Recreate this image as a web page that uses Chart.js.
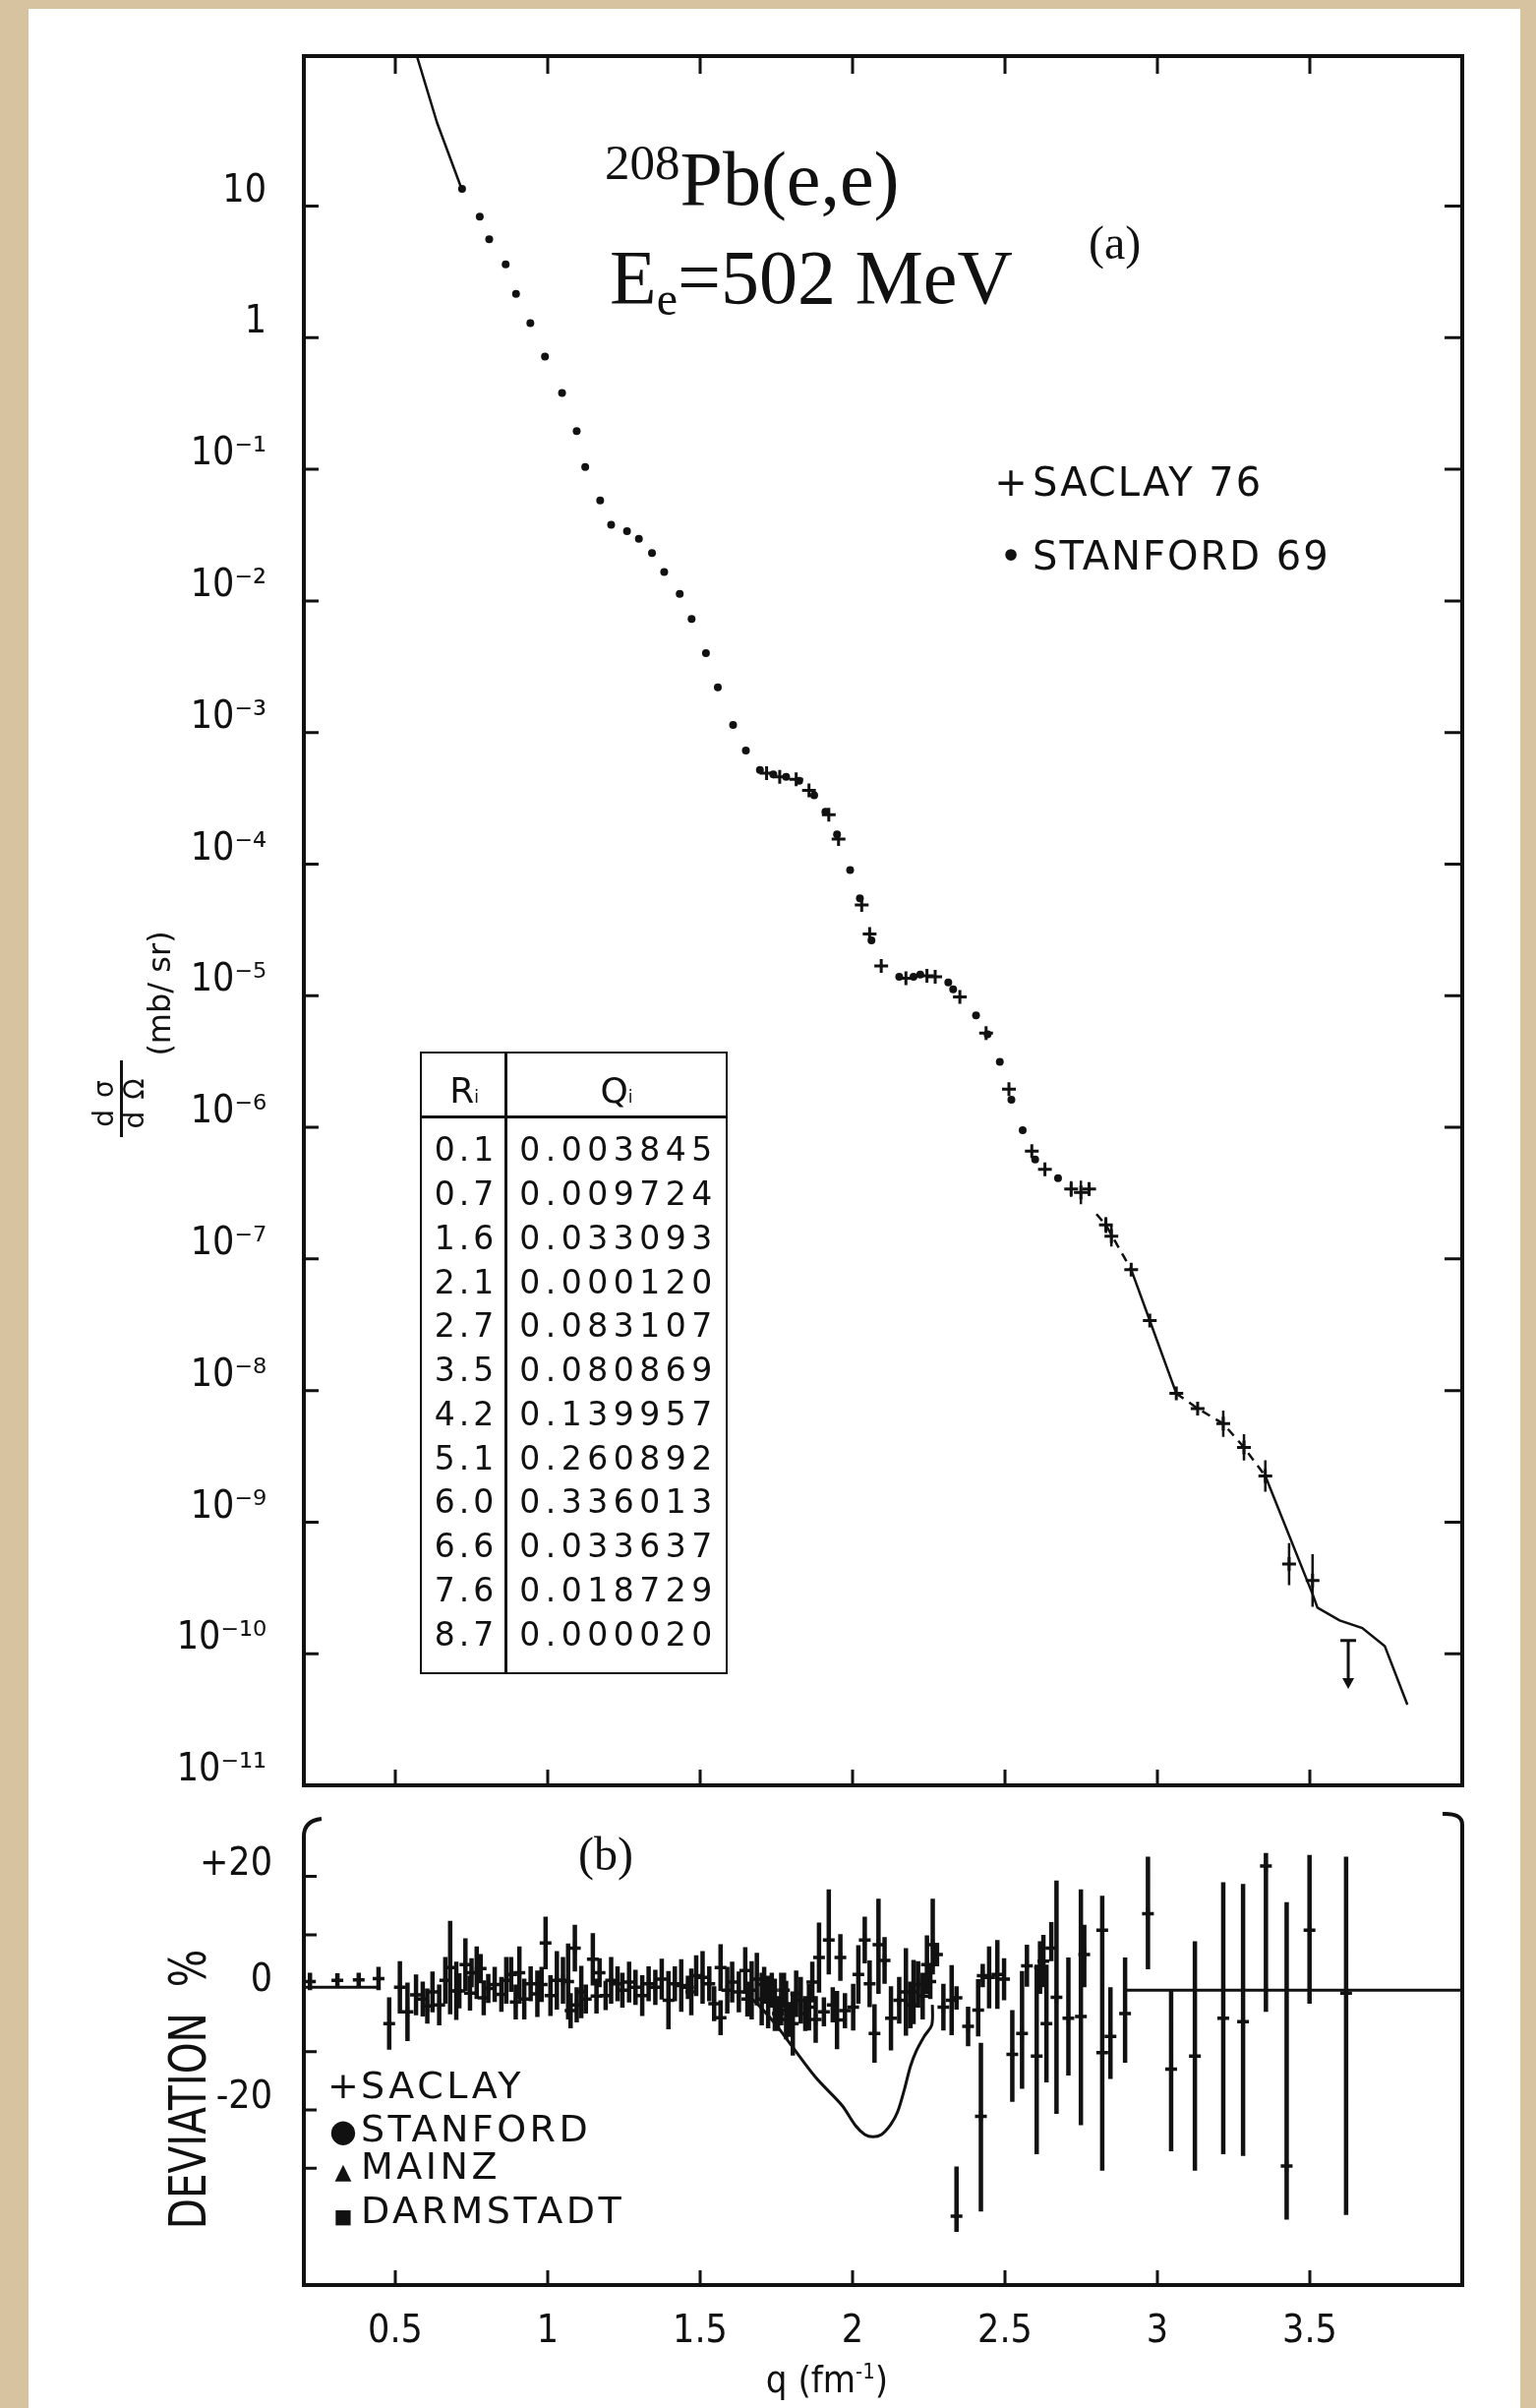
<!DOCTYPE html>
<html>
<head>
<meta charset="utf-8">
<script src="https://cdn.jsdelivr.net/npm/chart.js@4.4.1/dist/chart.umd.min.js"></script>
<style>
html, body { margin: 0; padding: 0; }
body { width: 1562px; height: 2448px; background: #d7c3a0; position: relative; overflow: hidden; color: #111;
       font-family: 'DejaVu Sans', sans-serif; }
#paper { position: absolute; left: 29px; top: 9px; width: 1517px; height: 2439px; background: #fff; }
canvas { position: absolute; left: 0; }
#upper { top: 0; }
#lower { top: 1793px; }
.t { position: absolute; white-space: nowrap; line-height: 1; }
.serif { font-family: 'Liberation Serif', 'Times New Roman', serif; }
.leg { font-size: 40px; letter-spacing: 2px; }
.leg2 { font-size: 38px; letter-spacing: 3.5px; }
.mk { display: inline-block; width: 44px; text-align: center; letter-spacing: 0; line-height: 0; }
.mk2 { display: inline-block; width: 36px; text-align: center; letter-spacing: 0; line-height: 0; }
.rot { transform: rotate(-90deg); transform-origin: center; text-align: center; }
.cell { position: absolute; line-height: 1; text-align: center; font-size: 32px; }
</style>
</head>
<body>
<div id="paper"></div>
<canvas id="upper" width="1562" height="1869"></canvas>
<canvas id="lower" width="1562" height="655"></canvas>

<!-- panel (a) texts -->
<div class="t serif" style="left:615px;top:140px;font-size:78px"><span style="font-size:51px;vertical-align:26px">208</span>Pb(e,e)</div>
<div class="t serif" style="left:620px;top:243px;font-size:78px">E<span style="font-size:48px;vertical-align:-12px">e</span>=502 MeV</div>
<div class="t serif" style="left:1107px;top:223px;font-size:48px">(a)</div>
<div class="t leg" style="left:1006px;top:470px"><span class="mk">+</span>SACLAY 76</div>
<div class="t leg" style="left:1006px;top:545px"><span class="mk">•</span>STANFORD 69</div>

<!-- y title of panel (a) -->
<div class="t rot" style="left:62px;top:994px;width:200px;font-size:32px">(mb/ sr)</div>
<div class="t rot" style="left:46px;top:1102px;width:120px;font-size:28px;letter-spacing:12px">dσ</div>
<div class="t rot" style="left:77px;top:1102px;width:120px;font-size:28px;letter-spacing:12px">dΩ</div>
<div style="position:absolute;left:122px;top:1078px;width:2.5px;height:78px;background:#111"></div>

<!-- table -->
<div id="tbl" style="position:absolute;left:427px;top:1069px;width:313px;height:633px;border:2.5px solid #111;box-sizing:border-box"></div>

<!-- panel (b) texts -->
<div class="t serif" style="left:588px;top:1861px;font-size:48px">(b)</div>
<div class="t leg2" style="left:331px;top:2101px"><span class="mk2">+</span>SACLAY</div>
<div class="t leg2" style="left:331px;top:2145px"><span class="mk2" style="font-size:32px">●</span>STANFORD</div>
<div class="t leg2" style="left:331px;top:2183px"><span class="mk2" style="font-size:22px">▲</span>MAINZ</div>
<div class="t leg2" style="left:331px;top:2228px"><span class="mk2" style="font-size:20px">■</span>DARMSTADT</div>
<div class="t rot" style="left:-9px;top:2098px;width:400px;font-size:52px;transform:rotate(-90deg) scale(0.78,1)">DEVIATION&nbsp; %</div>
<div class="t" style="left:641px;top:2400px;width:400px;text-align:center;font-size:38px;font-family:'DejaVu Sans Condensed','DejaVu Sans',sans-serif">q (fm<span style="font-size:22px;vertical-align:14px">-1</span>)</div>

<script>
const ink = '#111';

// shared q axis
const qTicks = [0.5, 1, 1.5, 2, 2.5, 3, 3.5];
const qTickLabels = ['0.5', '1', '1.5', '2', '2.5', '3', '3.5'];

// panel (a): cross section axis
const csTickValues = [10, 1, 1e-1, 1e-2, 1e-3, 1e-4, 1e-5, 1e-6, 1e-7, 1e-8, 1e-9, 1e-10, 1e-11];
const csTickLabels = ['10', '1', '10⁻¹', '10⁻²', '10⁻³', '10⁻⁴', '10⁻⁵', '10⁻⁶', '10⁻⁷', '10⁻⁸', '10⁻⁹', '10⁻¹⁰', '10⁻¹¹'];

// Stanford 69 (dots)
const stanfordQ = [0.719, 0.777, 0.808, 0.862, 0.896, 0.943, 0.991, 1.047, 1.095, 1.123, 1.172, 1.208, 1.260, 1.299, 1.342,
  1.382, 1.433, 1.472, 1.519, 1.558, 1.608, 1.650, 1.696, 1.740, 1.782, 1.825, 1.874, 1.911, 1.949, 1.992, 2.024, 2.062,
  2.153, 2.200, 2.222, 2.314, 2.330, 2.405, 2.443, 2.483, 2.521, 2.558, 2.599, 2.674];
const stanfordCs = [13.5, 8.3, 5.6, 3.6, 2.15, 1.29, 0.72, 0.38, 0.195, 0.104, 0.058, 0.0378, 0.0338, 0.0296, 0.0231,
  0.0166, 0.0113, 0.0073, 0.0040, 0.0022, 0.00114, 7.3e-4, 5.2e-4, 4.8e-4, 4.6e-4, 4.3e-4, 3.33e-4, 2.5e-4, 1.68e-4, 9.0e-5, 5.5e-5, 2.63e-5,
  1.39e-5, 1.39e-5, 1.45e-5, 1.26e-5, 1.12e-5, 7.1e-6, 5.1e-6, 3.14e-6, 1.62e-6, 9.5e-7, 5.7e-7, 4.1e-7];

// Saclay 76 (crosses), error in decades
const saclayQ = [1.718, 1.761, 1.815, 1.857, 1.922, 1.954, 2.030, 2.056, 2.094, 2.175, 2.244, 2.271, 2.352, 2.438, 2.513, 2.588,
  2.631, 2.717, 2.749, 2.776, 2.831, 2.849, 2.914, 2.975, 3.062, 3.132, 3.216, 3.284, 3.354, 3.432, 3.509];
const saclayCs = [4.9e-4, 4.6e-4, 4.4e-4, 3.63e-4, 2.37e-4, 1.55e-4, 4.9e-5, 2.95e-5, 1.68e-5, 1.36e-5, 1.42e-5, 1.39e-5, 9.8e-6, 5.2e-6, 1.95e-6, 6.6e-7,
  4.8e-7, 3.4e-7, 3.2e-7, 3.4e-7, 1.81e-7, 1.49e-7, 8.3e-8, 3.4e-8, 9.5e-9, 7.3e-9, 5.6e-9, 3.7e-9, 2.24e-9, 4.8e-10, 3.6e-10];
const saclayErrDec = [0, 0, 0, 0, 0, 0, 0, 0, 0, 0, 0, 0, 0, 0, 0, 0,
  0, 0.06, 0.09, 0.05, 0.06, 0.08, 0, 0, 0, 0, 0.1, 0.1, 0.12, 0.16, 0.2];

// upper limit point
const limitQ = 3.626, limitTop = 1.26e-10, limitBottom = 5.4e-11;

// fitted curve, visible pieces
const fitLowQ = [0.559, 0.637, 0.716];
const fitLowCs = [170, 43, 13.8];
const fitHighQ = [2.800, 2.831, 2.914, 2.975, 3.062, 3.132, 3.216, 3.284, 3.354, 3.510, 3.525, 3.598, 3.672, 3.746, 3.820];
const fitHighCs = [2.19e-7, 1.81e-7, 8.3e-8, 3.4e-8, 9.5e-9, 7.3e-9, 5.6e-9, 3.7e-9, 2.24e-9, 2.8e-10, 2.24e-10, 1.79e-10, 1.57e-10, 1.14e-10, 4.1e-11];

// table of the fit
const tableR = ['0.1', '0.7', '1.6', '2.1', '2.7', '3.5', '4.2', '5.1', '6.0', '6.6', '7.6', '8.7'];
const tableQ = ['0.003845', '0.009724', '0.033093', '0.000120', '0.083107', '0.080869', '0.139957', '0.260892', '0.336013', '0.033637', '0.018729', '0.000020'];

// panel (b): deviation axis
const devTickValues = [20, 0, -20];
const devTickLabels = ['+20', '0', '-20'];
const devMinorTicks = [20, 10, -10, -20, -30];

// deviation points: [q, deviation %, error down, error up]
const devPoints = [
  [0.22, 2, 1.5, 1.5], [0.31, 2.2, 1.2, 1.2], [0.38, 2.3, 1.2, 1.2], [0.445, 2.5, 2, 2],
  [0.48, -5.2, 4.5, 4.5], [0.515, 1.0, 4.5, 4.5], [0.54, -3.2, 5, 5], [0.568, -0.3, 3.5, 3.5], [0.59, -1.0, 3, 3],
  [0.605, -2.2, 3, 3], [0.622, 0.2, 3.5, 3.5], [0.644, -2.0, 3.5, 3.5], [0.664, 2.2, 4, 4], [0.68, 4.4, 8, 8],
  [0.70, 0.4, 5, 5], [0.71, 0.4, 3, 3], [0.73, 4.9, 4.5, 4.5], [0.745, 0.0, 3, 3], [0.75, 3.5, 2.5, 2.5],
  [0.767, 3.5, 4.5, 4.5], [0.78, 4.2, 2.5, 2.5], [0.79, -0.8, 3, 3], [0.805, 0.8, 2.5, 2.5], [0.826, 1.5, 3, 3],
  [0.848, -0.2, 3, 3], [0.864, 2.2, 4, 4], [0.88, 3.2, 3, 3], [0.895, -1.5, 3, 3], [0.907, 3.5, 4.5, 4.5],
  [0.923, -1.0, 3.5, 3.5], [0.944, 1.6, 3, 3], [0.966, -0.1, 4, 4], [0.98, 1.5, 3, 3], [0.993, 8.6, 4.5, 4.5],
  [1.009, -0.4, 3.5, 3.5], [1.03, 2.2, 5, 5], [1.05, 2.2, 4, 4], [1.067, 2.0, 6.5, 6.5], [1.075, -3.0, 3, 3],
  [1.089, 7.7, 4, 4], [1.095, -2.0, 3, 3], [1.11, 0.2, 4.5, 4.5], [1.125, -1.0, 2.5, 2.5], [1.148, 5.8, 4.5, 4.5],
  [1.16, -0.5, 3, 3], [1.17, 3.5, 2.5, 2.5], [1.19, -0.4, 2.5, 2.5], [1.208, 2.2, 4, 4], [1.229, 1.6, 3, 3],
  [1.245, 0.5, 3, 3], [1.267, 1.9, 3.5, 3.5], [1.288, 1.0, 3, 3], [1.31, -0.4, 3.5, 3.5], [1.331, 1.6, 3, 3],
  [1.353, 1.0, 3, 3], [1.374, 2.4, 3.5, 3.5], [1.396, -1.2, 5, 5], [1.417, 1.6, 3, 3], [1.438, 1.3, 4.5, 4.5],
  [1.46, 1.0, 2, 2], [1.471, 0.2, 4, 4], [1.487, 3.0, 3.5, 3.5], [1.508, 2.7, 4.5, 4.5], [1.53, 1.6, 3, 3],
  [1.546, -1.8, 3, 3], [1.567, 4.4, 4, 4], [1.567, -4.2, 3, 3], [1.589, 0.5, 4, 4], [1.605, 1.9, 3.5, 3.5],
  [1.627, 0.2, 3.5, 3.5], [1.648, 3.9, 4, 4], [1.655, -1.0, 3, 3], [1.669, 0.5, 5, 5], [1.686, 2.4, 4.5, 4.5],
  [1.702, -1.0, 4.5, 4.5], [1.71, 1.5, 3, 3], [1.723, -1.5, 4.5, 4.5], [1.735, 0.5, 3, 3], [1.745, -2.0, 4.5, 4.5],
  [1.755, -3.5, 3, 3], [1.766, -1.0, 4.5, 4.5], [1.775, 0.5, 3, 3], [1.782, -2.9, 5, 5], [1.79, -4.5, 3, 3],
  [1.804, -5.2, 5.5, 5.5], [1.815, -0.1, 4, 4], [1.83, -1.2, 4, 4], [1.845, -3.5, 3, 3], [1.857, -2.4, 4, 4],
  [1.868, 1.9, 3.5, 3.5], [1.879, -4.5, 4, 4], [1.89, 6.1, 6, 6], [1.906, -3.2, 2.5, 2.5], [1.922, 9.1, 5.9, 8.7],
  [1.935, -2.0, 3, 3], [1.949, -4.6, 5, 5], [1.96, 6.1, 4, 4], [1.975, -3.0, 3, 3], [2.002, -2.4, 4, 4],
  [2.019, 3.2, 5, 5], [2.04, 9.1, 4, 4], [2.056, 1.6, 4, 4], [2.072, -6.9, 5, 5], [2.085, 8.3, 8.4, 7.9],
  [2.105, 5.6, 4, 4], [2.126, -4.3, 5.5, 5.5], [2.153, -1.2, 4, 4], [2.175, 0.2, 7.5, 7.5], [2.19, -2.0, 4, 4],
  [2.2, 0.2, 5.5, 5.5], [2.215, 1.5, 4, 4], [2.23, -0.5, 4, 4], [2.244, 4.9, 5, 5], [2.255, 2.0, 3, 3],
  [2.263, 8.3, 5.1, 7.9], [2.277, 6.6, 2, 2], [2.298, -2.4, 4, 4], [2.325, -1.2, 6, 6], [2.341, -0.8, 2, 2],
  [2.341, -38.2, 2.7, 8.5], [2.379, -5.7, 3.4, 3.4], [2.412, -2.9, 4.5, 5.3], [2.421, -21.1, 16.3, 12.6], [2.427, 3.0, 2, 2],
  [2.448, 2.7, 5.3, 5.3], [2.475, 3.2, 5.9, 5.9], [2.497, 2.4, 3.6, 3.6], [2.524, -10.5, 8.1, 7.6], [2.556, -6.9, 9.5, 10.7],
  [2.572, 4.7, 3.6, 3.6], [2.604, -10.8, 16.8, 15.7], [2.615, 4.4, 4.5, 4.5], [2.626, 5.5, 4.5, 4.5], [2.636, -5.2, 10.1, 10.1],
  [2.652, 7.7, 2.2, 4.5], [2.669, -0.7, 20, 20], [2.708, -4.3, 9.8, 10.4], [2.749, -4.0, 18.6, 21.8], [2.76, 6.6, 5.6, 5.1],
  [2.819, -10.2, 20.2, 26.9], [2.819, 10.8, 6, 1], [2.846, -7.4, 7.3, 8.4], [2.894, -3.5, 8.4, 9.6], [2.969, 13.6, 9.5, 9.8],
  [3.045, -13.0, 14.1, 13.4], [3.123, -10.8, 19.6, 19.7], [3.216, -4.3, 23.3, 23.3], [3.281, -4.9, 23, 23.6],
  [3.356, 21.8, 25, 2.2], [3.424, -29.6, 9.2, 45.2], [3.499, 10.8, 12.6, 12.9], [3.619, 0, 38, 23.4]
];

// fitted curve deviation and reference lines
const devFitQ = [1.66, 1.70, 1.75, 1.80, 1.88, 1.965, 2.01, 2.04, 2.067, 2.095, 2.125, 2.148, 2.17, 2.19, 2.21, 2.235, 2.26, 2.262];
const devFitVal = [-0.5, -2.5, -5.5, -9.0, -14.5, -19.2, -22.7, -24.2, -24.6, -24.2, -22.5, -20.3, -16.5, -12.5, -9.8, -7.4, -5.4, -2.0];
const baseLeftQ = [0.2, 0.445], baseLeftVal = [1, 1];
const baseRightQ = [2.90, 4.0], baseRightVal = [0.5, 0.5];

function pts(xs, ys) { return xs.map((x, i) => ({ x, y: ys[i] })); }

const tickFont = { family: "'DejaVu Sans Condensed', 'DejaVu Sans', sans-serif", size: 39 };

// vertical error bars drawn with the chart's own y scale
const errorBars = {
  id: 'errorBars',
  afterDatasetsDraw(chart) {
    const ctx = chart.ctx, y = chart.scales.y;
    chart.data.datasets.forEach((ds, di) => {
      if (!ds.errLow) return;
      const meta = chart.getDatasetMeta(di);
      ctx.save();
      ctx.strokeStyle = ink;
      ctx.lineWidth = ds.errWidth;
      ctx.beginPath();
      meta.data.forEach((pt, i) => {
        if (ds.errLow[i] === ds.errHigh[i]) return;
        ctx.moveTo(pt.x, y.getPixelForValue(ds.errLow[i]));
        ctx.lineTo(pt.x, y.getPixelForValue(ds.errHigh[i]));
      });
      ctx.stroke();
      ctx.restore();
    });
  }
};

const upperFrame = {
  id: 'upperFrame',
  afterDraw(chart) {
    const { ctx, chartArea: a, scales: { x, y } } = chart;
    ctx.save();
    ctx.strokeStyle = ink;
    ctx.fillStyle = ink;
    ctx.lineWidth = 4;
    ctx.strokeRect(a.left, a.top, a.right - a.left, a.bottom - a.top);
    ctx.lineWidth = 3;
    ctx.beginPath();
    qTicks.forEach(v => {
      const px = x.getPixelForValue(v);
      ctx.moveTo(px, a.bottom); ctx.lineTo(px, a.bottom - 16);
      ctx.moveTo(px, a.top); ctx.lineTo(px, a.top + 18);
    });
    csTickValues.forEach(v => {
      const py = y.getPixelForValue(v);
      if (py > a.bottom - 4) return;
      ctx.moveTo(a.left, py); ctx.lineTo(a.left + 15, py);
      ctx.moveTo(a.right, py); ctx.lineTo(a.right - 18, py);
    });
    ctx.stroke();
    // upper limit
    const lx = x.getPixelForValue(limitQ), ly1 = y.getPixelForValue(limitTop), ly2 = y.getPixelForValue(limitBottom);
    ctx.beginPath();
    ctx.moveTo(lx - 8, ly1); ctx.lineTo(lx + 8, ly1);
    ctx.moveTo(lx, ly1); ctx.lineTo(lx, ly2 - 8);
    ctx.stroke();
    ctx.beginPath();
    ctx.moveTo(lx - 6, ly2 - 11); ctx.lineTo(lx + 6, ly2 - 11); ctx.lineTo(lx, ly2);
    ctx.closePath(); ctx.fill();
    ctx.restore();
  }
};

const lowerFrame = {
  id: 'lowerFrame',
  afterDraw(chart) {
    const { ctx, chartArea: a, scales: { x, y } } = chart;
    ctx.save();
    ctx.strokeStyle = ink;
    ctx.lineWidth = 4;
    ctx.beginPath();
    ctx.moveTo(a.left + 18, a.top - 4);
    ctx.quadraticCurveTo(a.left, a.top - 2, a.left, a.top + 14);
    ctx.lineTo(a.left, a.bottom);
    ctx.lineTo(a.right, a.bottom);
    ctx.lineTo(a.right, a.top + 2);
    ctx.quadraticCurveTo(a.right, a.top - 10, a.right - 20, a.top - 9);
    ctx.stroke();
    ctx.lineWidth = 3;
    ctx.beginPath();
    qTicks.forEach(v => {
      const px = x.getPixelForValue(v);
      ctx.moveTo(px, a.bottom); ctx.lineTo(px, a.bottom - 15);
    });
    devMinorTicks.forEach(v => {
      const py = y.getPixelForValue(v);
      ctx.moveTo(a.left, py); ctx.lineTo(a.left + 13, py);
    });
    ctx.stroke();
    ctx.restore();
  }
};

// ---- panel (a): chart area 309..1487 x 57..1815
new Chart(document.getElementById('upper'), {
  type: 'scatter',
  data: {
    datasets: [
      {
        data: pts(fitLowQ, fitLowCs), showLine: true, pointRadius: 0, borderColor: ink, borderWidth: 2.5
      },
      {
        data: pts(fitHighQ, fitHighCs), showLine: true, pointRadius: 0, borderColor: ink, borderWidth: 2.5,
        segment: {
          borderDash: c => {
            const q = c.p0.parsed.x;
            return ((q >= 2.79 && q < 2.9) || (q >= 3.06 && q < 3.35)) ? [9, 7] : undefined;
          }
        }
      },
      {
        data: pts(stanfordQ, stanfordCs), pointStyle: 'circle', pointRadius: 4,
        backgroundColor: ink, borderColor: ink, borderWidth: 0
      },
      {
        data: pts(saclayQ, saclayCs), pointStyle: 'cross', pointRadius: 7, borderColor: ink, borderWidth: 3,
        errLow: saclayCs.map((v, i) => v / Math.pow(10, saclayErrDec[i])),
        errHigh: saclayCs.map((v, i) => v * Math.pow(10, saclayErrDec[i])),
        errWidth: 2.5
      }
    ]
  },
  options: {
    responsive: false, animation: false, devicePixelRatio: 1,
    layout: { padding: { left: 0, right: 75, top: 57, bottom: 0 } },
    plugins: { legend: { display: false }, tooltip: { enabled: false } },
    scales: {
      x: {
        type: 'linear', min: 0.2, max: 4.0,
        grid: { display: false }, border: { display: false }, ticks: { display: false },
        afterFit: s => { s.height = 54; }
      },
      y: {
        type: 'logarithmic', min: 1e-11, max: 138,
        afterBuildTicks: s => { s.ticks = csTickValues.map(v => ({ value: v })); },
        grid: { display: false }, border: { display: false },
        ticks: {
          autoSkip: false, color: ink, font: tickFont, padding: 30, labelOffset: -15,
          callback: (v, i) => csTickLabels[i]
        },
        afterFit: s => { s.width = 309; }
      }
    }
  },
  plugins: [errorBars, upperFrame]
});

// ---- panel (b): chart area 309..1487 x 1853..2323
new Chart(document.getElementById('lower'), {
  type: 'scatter',
  data: {
    datasets: [
      { data: pts(baseLeftQ, baseLeftVal), showLine: true, pointRadius: 0, borderColor: ink, borderWidth: 3 },
      { data: pts(baseRightQ, baseRightVal), showLine: true, pointRadius: 0, borderColor: ink, borderWidth: 3 },
      { data: pts(devFitQ, devFitVal), showLine: true, pointRadius: 0, borderColor: ink, borderWidth: 3, tension: 0.3 },
      {
        data: devPoints.map(p => ({ x: p[0], y: p[1] })),
        pointStyle: 'cross', pointRadius: 6, borderColor: ink, borderWidth: 3.5,
        errLow: devPoints.map(p => p[1] - p[2]),
        errHigh: devPoints.map(p => p[1] + p[3]),
        errWidth: 4.5
      }
    ]
  },
  options: {
    responsive: false, animation: false, devicePixelRatio: 1,
    layout: { padding: { left: 0, right: 75, top: 60, bottom: 0 } },
    plugins: { legend: { display: false }, tooltip: { enabled: false } },
    scales: {
      x: {
        type: 'linear', min: 0.2, max: 4.0,
        afterBuildTicks: s => { s.ticks = qTicks.map(v => ({ value: v })); },
        grid: { display: false }, border: { display: false },
        ticks: { autoSkip: false, maxRotation: 0, color: ink, font: tickFont, padding: 16, callback: (v, i) => qTickLabels[i] },
        afterFit: s => { s.height = 125; }
      },
      y: {
        type: 'linear', min: -50, max: 29.2,
        afterBuildTicks: s => { s.ticks = devTickValues.map(v => ({ value: v })); },
        grid: { display: false }, border: { display: false },
        ticks: { autoSkip: false, color: ink, font: tickFont, padding: 24, labelOffset: -12, callback: (v, i) => devTickLabels[i] },
        afterFit: s => { s.width = 309; }
      }
    }
  },
  plugins: [errorBars, lowerFrame]
});

// ---- table cells
const tbl = document.getElementById('tbl');
function cell(html, left, top, width, size, extra) {
  const d = document.createElement('div');
  d.className = 'cell';
  d.style.left = left + 'px'; d.style.top = top + 'px'; d.style.width = width + 'px';
  d.style.fontSize = size + 'px';
  if (extra) Object.assign(d.style, extra);
  d.innerHTML = html;
  tbl.appendChild(d);
}
const divider = document.createElement('div');
divider.style.cssText = 'position:absolute;left:84px;top:0;width:2.5px;height:100%;background:#111';
tbl.appendChild(divider);
const headLine = document.createElement('div');
headLine.style.cssText = 'position:absolute;left:0;top:63px;width:100%;height:2.5px;background:#111';
tbl.appendChild(headLine);
cell('R<span style="font-size:17px">i</span>', 0, 20, 86, 36);
cell('Q<span style="font-size:17px">i</span>', 86, 20, 224, 36);
tableR.forEach((r, k) => {
  const top = 1165.7 + 44.75 * k - 15.4 - 1069;
  cell(r, 2, top, 86, 33, { letterSpacing: '4px' });
  cell(tableQ[k], 88, top, 224, 33, { letterSpacing: '5.5px' });
});
</script>
</body>
</html>
